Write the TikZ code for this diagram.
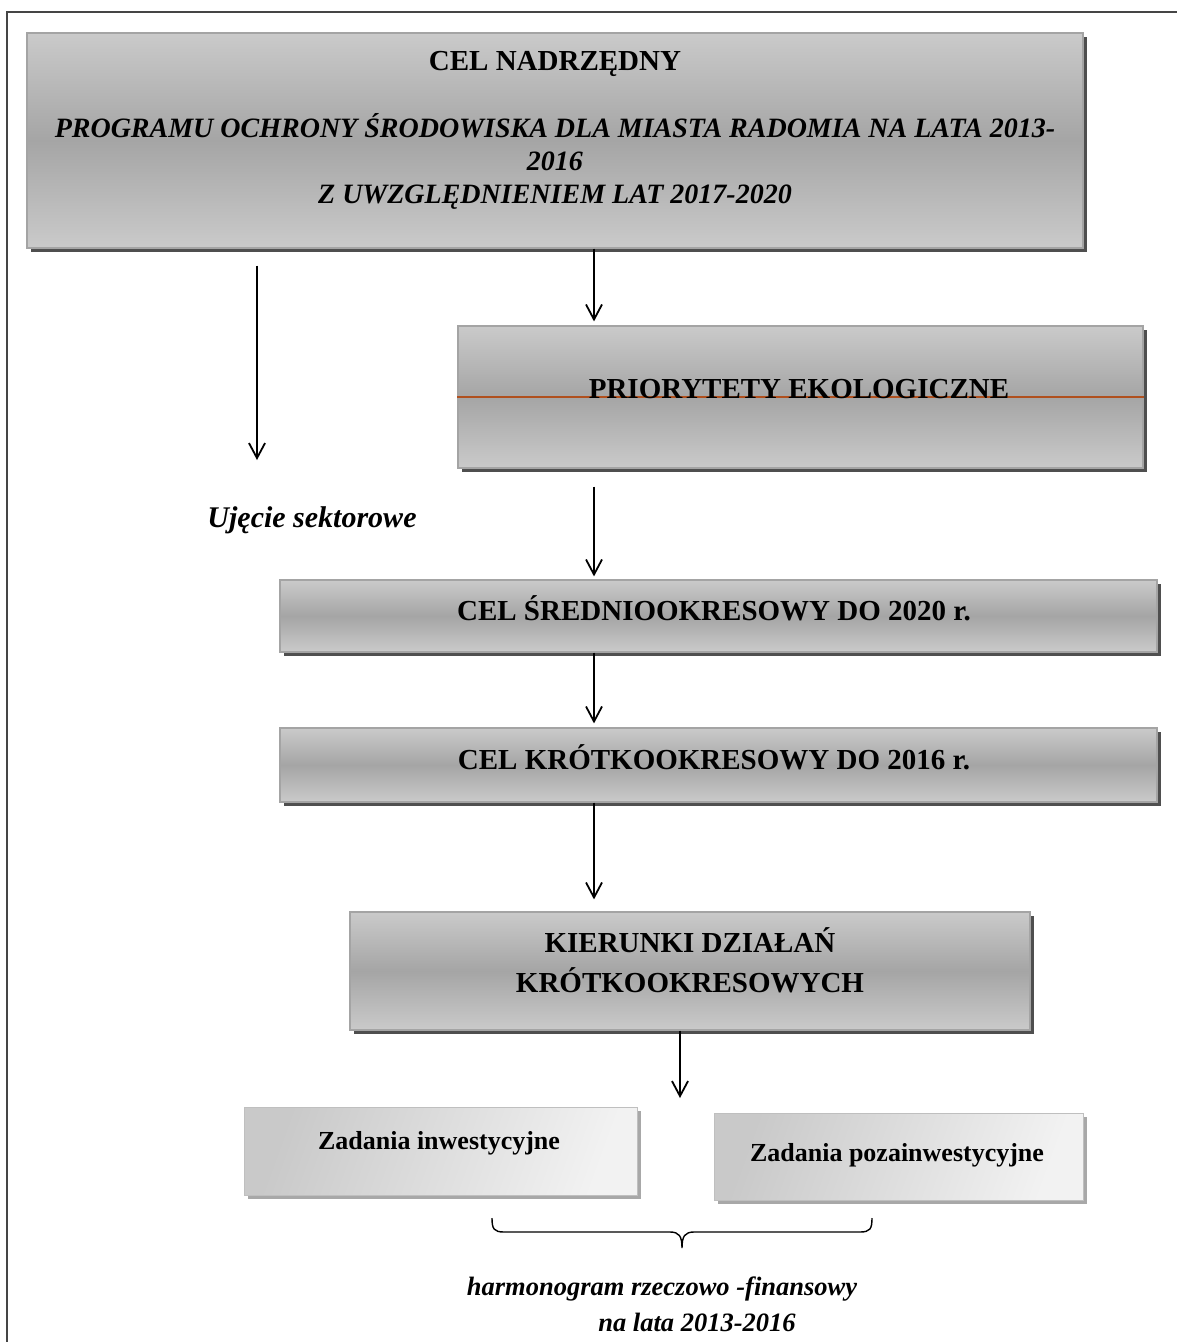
\documentclass[tikz,border=0pt]{standalone}
\usepackage{fontspec}
\setmainfont{Liberation Serif}
\usetikzlibrary{arrows.meta,calc,shadows}
\definecolor{shad}{HTML}{4F4F4F}
\definecolor{shadlt}{HTML}{A8A8A8}
\definecolor{bord}{HTML}{A4A4A4}
\definecolor{gtop}{HTML}{CACACA}
\definecolor{gmid}{HTML}{A5A5A5}
\definecolor{ltA}{HTML}{C9C9C9}
\definecolor{ltB}{HTML}{F2F2F2}
\definecolor{rust}{HTML}{B0501E}
\definecolor{framec}{HTML}{454545}
\begin{document}
\begin{tikzpicture}[x=1pt,y=-1pt,
  mainbox/.style={rectangle, draw=bord, line width=1.2pt, inner sep=0pt,
    top color=gtop, bottom color=gtop, middle color=gmid,
    drop shadow={fill=shad, opacity=1, shadow xshift=4pt, shadow yshift=-4pt}},
  lightbox/.style={rectangle, draw=bord!70, line width=1pt, inner sep=0pt,
    left color=ltA, right color=ltB, shading angle=70,
    drop shadow={fill=shadlt, opacity=1, shadow xshift=4pt, shadow yshift=-4pt}},
  boxtxt/.style={font=\fontsize{29}{33}\selectfont\bfseries, anchor=base, inner sep=0pt},
  titletxt/.style={font=\fontsize{28}{33}\selectfont\bfseries\itshape, anchor=base, inner sep=0pt, align=center},
  smalltxt/.style={font=\fontsize{26}{30}\selectfont\bfseries, anchor=base, inner sep=0pt},
  captxt/.style={font=\fontsize{26.5}{30}\selectfont\bfseries\itshape, anchor=base, inner sep=0pt},
  arr/.style={line width=1.8pt, -{Straight Barb[length=15pt,width=16pt,line width=1.8pt]}},
  brace/.style={line width=1.4pt}
]
\useasboundingbox (0,0) rectangle (1177,1342);
% frame (top and left edges)
\draw[framec, line width=2.2pt] (7,1342) -- (7,12) -- (1177,12);

% boxes
\node[mainbox, minimum width=1056pt, minimum height=215pt] (b1) at (555,140.5) {};
\node[mainbox, minimum width=685pt, minimum height=142pt] (b2) at (800.5,397) {};
\node[mainbox, minimum width=877pt, minimum height=72pt] (b3) at (718.5,616) {};
\node[mainbox, minimum width=877pt, minimum height=74pt] (b4) at (718.5,765) {};
\node[mainbox, minimum width=680pt, minimum height=118pt] (b5) at (690,971) {};
\node[lightbox, minimum width=393pt, minimum height=88pt] (b6) at (440.5,1151) {};
\node[lightbox, minimum width=369pt, minimum height=87pt] (b7) at (898.5,1156.5) {};

% rust line across priorities box
\draw[rust, line width=1.6pt] (b2.west) -- (b2.east);

% texts (multi-line nodes: base = last line)
\node[boxtxt] (t1) at (555,70) {CEL NADRZĘDNY};
\node[titletxt] (t1b) at (555,203) {PROGRAMU OCHRONY ŚRODOWISKA DLA MIASTA RADOMIA NA LATA 2013-\\2016\\Z UWZGLĘDNIENIEM LAT 2017-2020};
\node[boxtxt] (t2) at (799,398) {PRIORYTETY EKOLOGICZNE};
\node[boxtxt] (t3) at (714,620) {CEL ŚREDNIOOKRESOWY DO 2020 r.};
\node[boxtxt] (t4) at (714,769) {CEL KRÓTKOOKRESOWY DO 2016 r.};
\node[boxtxt, align=center, font=\fontsize{29}{40}\selectfont\bfseries] (t5) at (690,992) {KIERUNKI DZIAŁAŃ\\KRÓTKOOKRESOWYCH};
\node[smalltxt] (t6) at (439,1149) {Zadania inwestycyjne};
\node[smalltxt] (t7) at (897,1161) {Zadania pozainwestycyjne};
\node[captxt, font=\fontsize{30}{34}\selectfont\bfseries\itshape] (ujs) at (312,527) {Ujęcie sektorowe};
\node[captxt] (harm) at (662,1295) {harmonogram rzeczowo -finansowy};
\node[captxt] (lata) at (697,1331) {na lata 2013-2016};

% column coordinates
\coordinate (cx) at (594,0);
\coordinate (lx) at (257,0);
\coordinate (kx) at (680,0);
\coordinate (lend) at (257,460);
\coordinate (kend) at (680,1098);

% connectors
\draw[arr] (b1.south -| cx) -- ([yshift=4pt]b2.north -| cx);
\draw[arr] ([yshift=-17pt]b1.south -| lx) -- (lend);
\draw[arr] ([yshift=-18pt]b2.south -| cx) -- ([yshift=3pt]b3.north -| cx);
\draw[arr] (b3.south -| cx) -- ([yshift=4pt]b4.north -| cx);
\draw[arr] (b4.south -| cx) -- ([yshift=12pt]b5.north -| cx);
\draw[arr] (b5.south -| kx) -- (kend);

% brace under the task boxes
\coordinate (bl) at (492,1218);
\coordinate (br) at (872,1218);
\coordinate (btip) at (682,1248);
\draw[brace] (bl) .. controls (492,1229) and (494,1232) .. (504,1232)
  -- (670,1232) .. controls (679,1232) and (682,1236) .. (btip)
  .. controls (682,1236) and (685,1232) .. (694,1232)
  -- (860,1232) .. controls (870,1232) and (872,1229) .. (br);
\end{tikzpicture}
\end{document}
